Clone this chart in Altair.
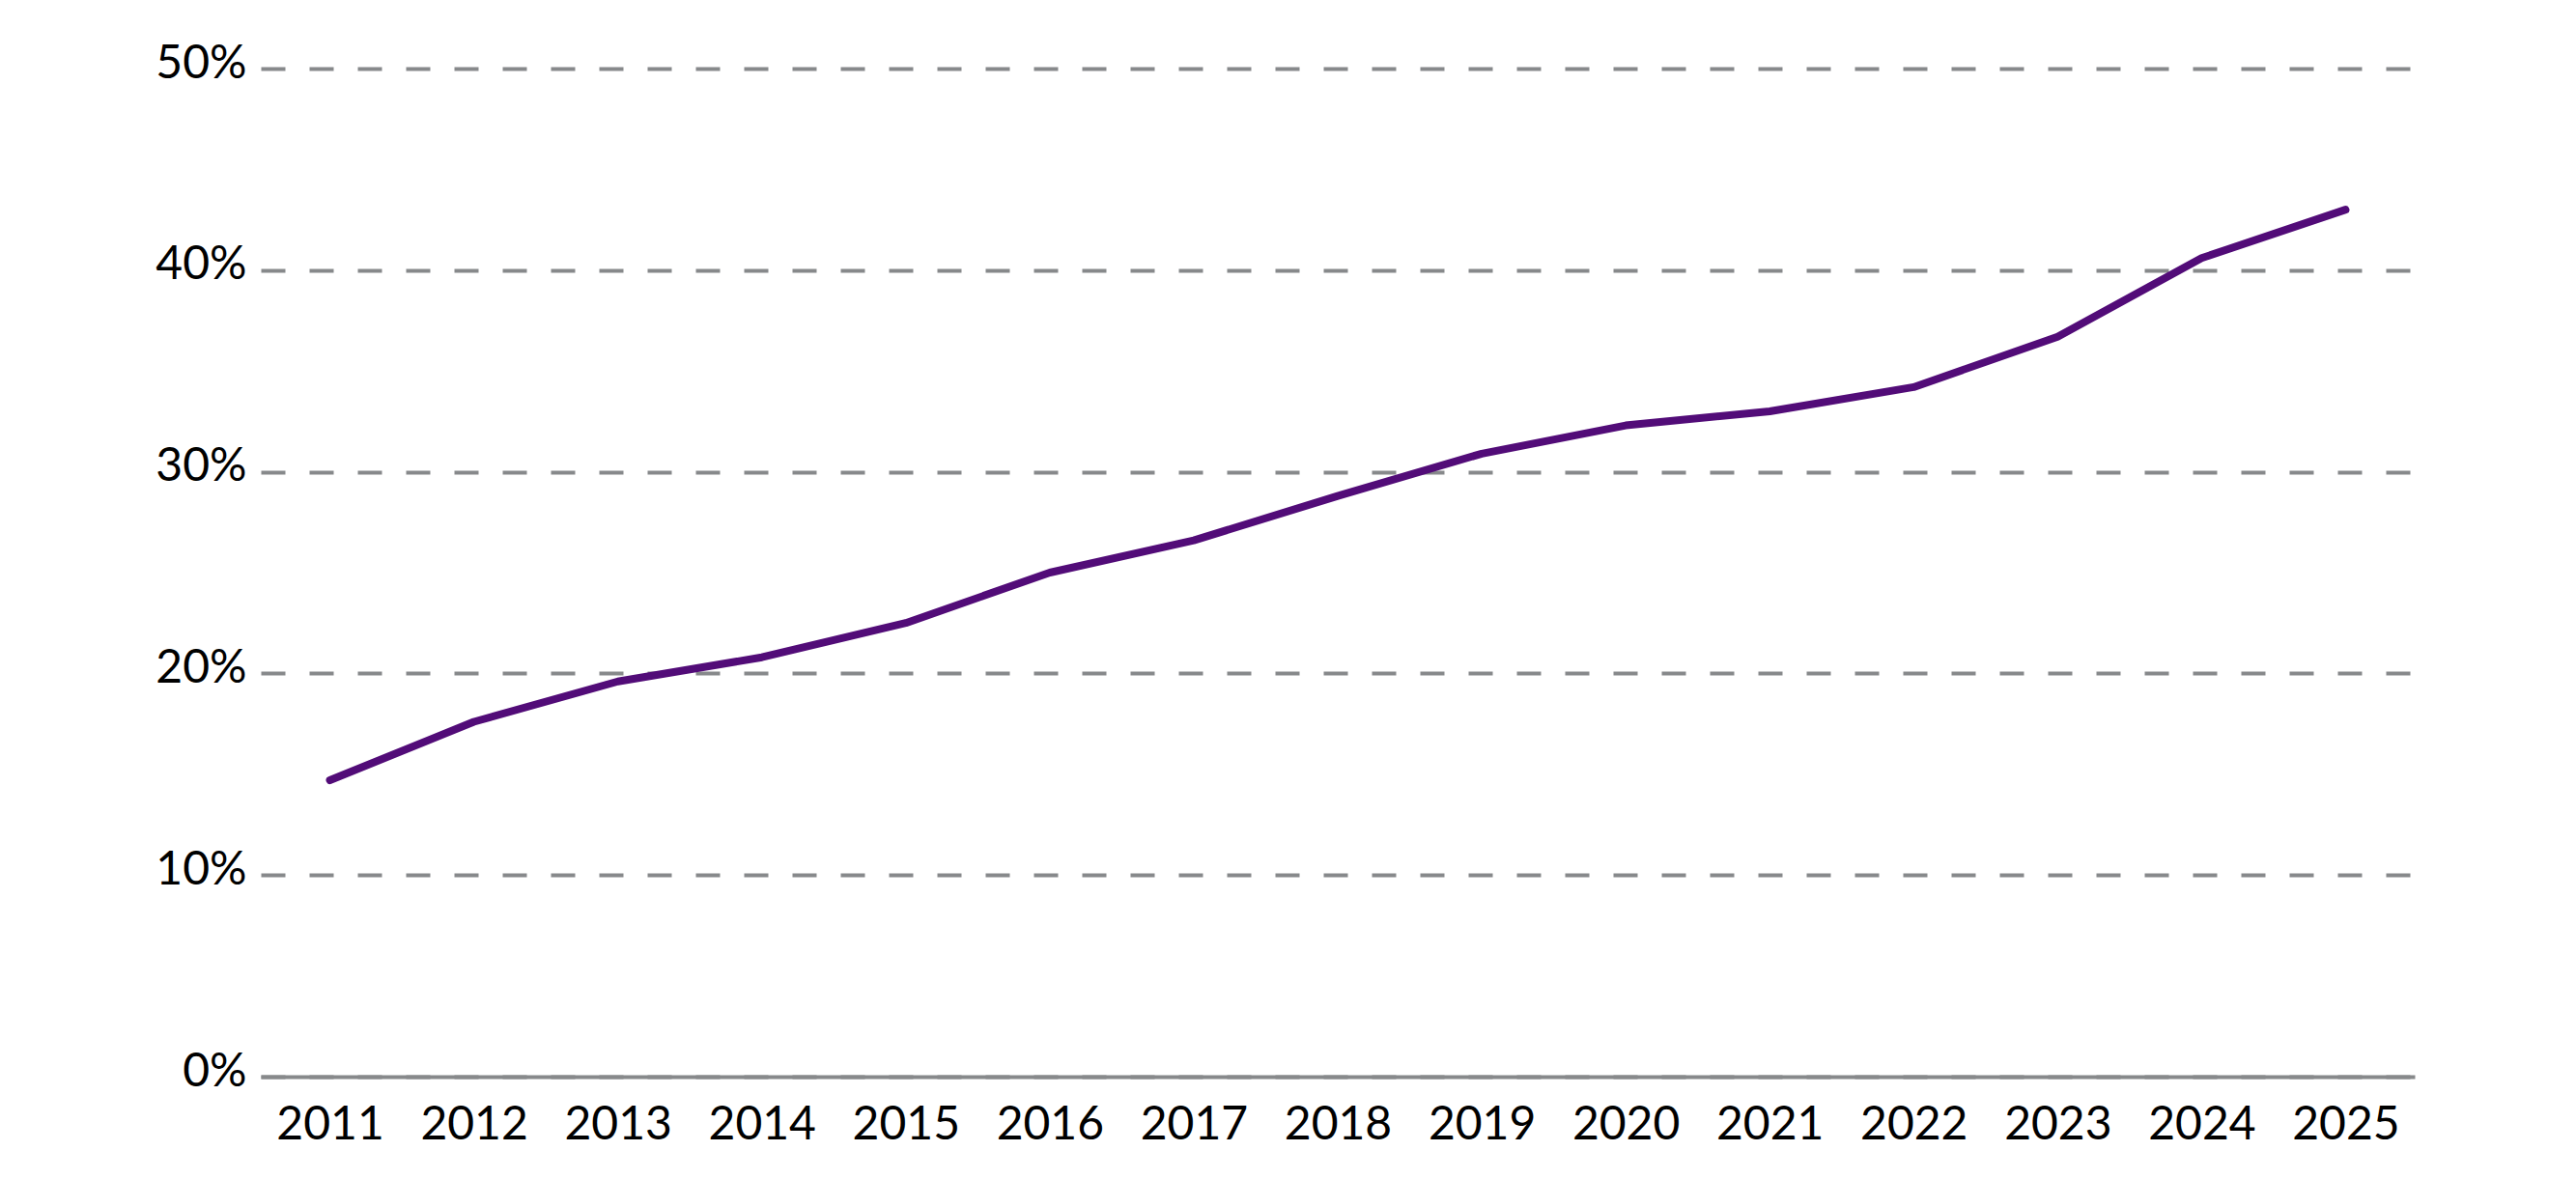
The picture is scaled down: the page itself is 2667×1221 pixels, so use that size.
import altair as alt
import pandas as pd

# Share of total, by year (percent)
years = ["2011", "2012", "2013", "2014", "2015", "2016", "2017", "2018",
         "2019", "2020", "2021", "2022", "2023", "2024", "2025"]
shares = [14.7, 17.6, 19.6, 20.8, 22.5, 25.0, 26.6, 28.8,
          30.9, 32.3, 33.0, 34.2, 36.7, 40.6, 43.0]
y_ticks = [0, 10, 20, 30, 40, 50]

df = pd.DataFrame({"year": years, "share": shares})

FONT = "Lato"
GREY = "#87898b"
PURPLE = "#520c78"

chart = (
    alt.Chart(df)
    .mark_line(color=PURPLE, strokeWidth=8, strokeCap="round", strokeJoin="round")
    .encode(
        x=alt.X(
            "year:O",
            sort=years,
            scale=alt.Scale(type="point", padding=0.48),
            axis=alt.Axis(
                title=None,
                labelAngle=0,
                labelFont=FONT,
                labelFontSize=48,
                labelColor="#000000",
                labelPadding=26,
                ticks=False,
                domain=True,
                domainColor=GREY,
                domainWidth=4,
                grid=False,
                zindex=2,
            ),
        ),
        y=alt.Y(
            "share:Q",
            scale=alt.Scale(domain=[0, 50], nice=False),
            axis=alt.Axis(
                title=None,
                values=y_ticks,
                labelExpr="datum.value + '%'",
                labelFont=FONT,
                labelFontSize=48,
                labelColor="#000000",
                labelPadding=15,
                labelOffset=-5,
                ticks=False,
                domain=False,
                grid=True,
                gridColor=GREY,
                gridWidth=4,
                gridDash=[25, 25],
                zindex=0,
            ),
        ),
    )
    .properties(
        width=2230,
        height=1044,
        background="#ffffff",
        autosize=alt.AutoSizeParams(type="none"),
        padding={"left": 270, "top": 71, "right": 167, "bottom": 106},
    )
    .configure_view(strokeWidth=0, stroke="transparent")
)

chart.save("out.html", embed_options={"renderer": "svg", "actions": False})
